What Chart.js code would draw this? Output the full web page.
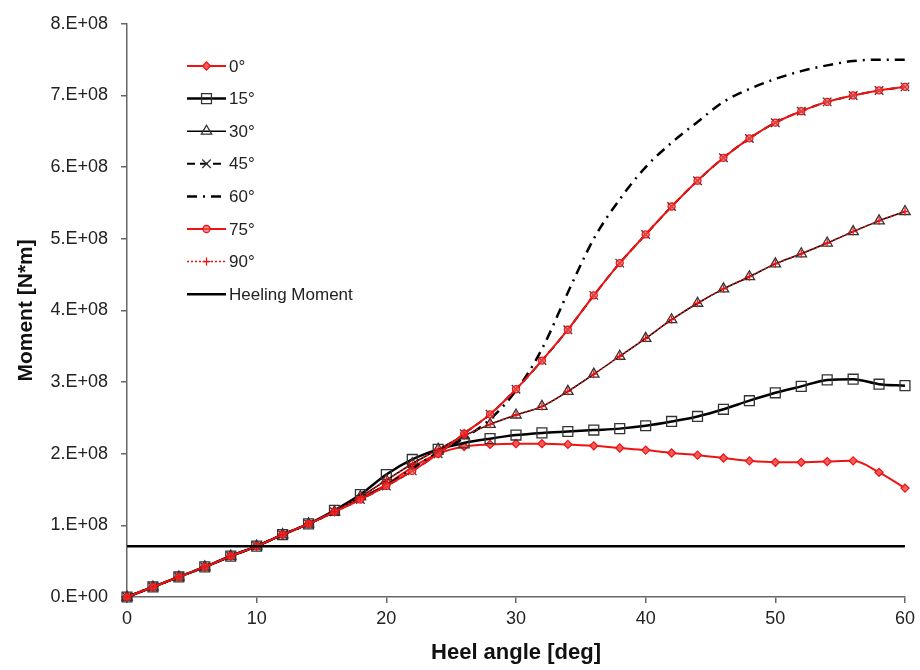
<!DOCTYPE html>
<html>
<head>
<meta charset="utf-8">
<script src="https://cdn.jsdelivr.net/npm/chart.js@4.4.1/dist/chart.umd.min.js"></script>
<style>
  html, body { margin: 0; padding: 0; background: #fff; }
  #wrap { width: 920px; height: 670px; }
</style>
</head>
<body>
<div id="wrap"><canvas id="chart" width="920" height="670"></canvas></div>
<script>
// heel angles [deg]
const heelAngle = [0, 2, 4, 6, 8, 10, 12, 14, 16, 18, 20, 22, 24, 26, 28, 30,
                   32, 34, 36, 38, 40, 42, 44, 46, 48, 50, 52, 54, 56, 58, 60];

// righting moments, in units of 1E+08 N*m
const moment0 = [0, 0.14, 0.28, 0.42, 0.57, 0.71, 0.87, 1.02, 1.19, 1.38, 1.57, 1.81, 2.00, 2.10, 2.13, 2.14,
                 2.14, 2.13, 2.11, 2.08, 2.05, 2.01, 1.98, 1.94, 1.90, 1.88, 1.88, 1.89, 1.90, 1.74, 1.52];
const moment15 = [0, 0.14, 0.28, 0.42, 0.57, 0.71, 0.87, 1.02, 1.21, 1.43, 1.71, 1.92, 2.06, 2.15, 2.21, 2.26,
                  2.29, 2.31, 2.33, 2.35, 2.39, 2.45, 2.52, 2.62, 2.74, 2.85, 2.94, 3.03, 3.04, 2.97, 2.95];
const moment30 = [0, 0.14, 0.28, 0.42, 0.57, 0.71, 0.87, 1.02, 1.19, 1.40, 1.63, 1.86, 2.06, 2.25, 2.41, 2.54,
                  2.66, 2.87, 3.11, 3.36, 3.61, 3.87, 4.10, 4.30, 4.47, 4.65, 4.79, 4.94, 5.10, 5.25, 5.38];
const moment45 = [0, 0.14, 0.28, 0.42, 0.57, 0.71, 0.87, 1.02, 1.19, 1.36, 1.55, 1.76, 2.00, 2.28, 2.55, 2.90,
                  3.30, 3.73, 4.21, 4.66, 5.06, 5.45, 5.81, 6.13, 6.40, 6.62, 6.78, 6.91, 7.00, 7.07, 7.12];
const moment60 = [0, 0.14, 0.28, 0.42, 0.57, 0.71, 0.87, 1.02, 1.19, 1.37, 1.56, 1.79, 2.02, 2.22, 2.48, 2.88,
                  3.46, 4.25, 5.00, 5.55, 6.00, 6.34, 6.63, 6.91, 7.09, 7.23, 7.34, 7.42, 7.48, 7.50, 7.50];
const moment75 = [0, 0.14, 0.28, 0.42, 0.57, 0.71, 0.87, 1.02, 1.19, 1.36, 1.55, 1.76, 2.00, 2.28, 2.55, 2.90,
                  3.30, 3.73, 4.21, 4.66, 5.06, 5.45, 5.81, 6.13, 6.40, 6.62, 6.78, 6.91, 7.00, 7.07, 7.12];
const moment90 = [0, 0.14, 0.28, 0.42, 0.57, 0.71, 0.87, 1.02, 1.19, 1.40, 1.63, 1.86, 2.06, 2.25, 2.41, 2.54,
                  2.66, 2.87, 3.11, 3.36, 3.61, 3.87, 4.10, 4.30, 4.47, 4.65, 4.79, 4.94, 5.10, 5.25, 5.38];

const heelingX = [0, 60];
const heelingMoment = [0.71, 0.71];

const toPoints = (xs, ys) => xs.map((x, i) => ({ x: x, y: ys[i] * 1e8 }));

const RED = 'rgb(238,20,20)';
const BLACK = '#000';

Chart.defaults.font.family = '"Liberation Sans", Arial, sans-serif';

// legend drawn inside the plot, line sample + marker like the original
const insideLegend = {
  id: 'insideLegend',
  afterDraw(chart) {
    const ctx = chart.ctx;
    const x0 = 187, x1 = 226, top = 66, step = 32.6;
    chart.data.datasets.forEach((ds, i) => {
      const y = top + i * step;
      ctx.save();
      ctx.strokeStyle = ds.borderColor;
      ctx.lineWidth = ds.borderWidth;
      ctx.setLineDash(ds.borderDash || []);
      ctx.beginPath();
      ctx.moveTo(x0, y);
      ctx.lineTo(x1, y);
      ctx.stroke();
      ctx.setLineDash([]);
      if (ds.pointRadius > 0 && Chart.helpers && Chart.helpers.drawPoint) {
        ctx.fillStyle = ds.pointBackgroundColor;
        ctx.strokeStyle = ds.pointBorderColor;
        ctx.lineWidth = ds.pointBorderWidth;
        Chart.helpers.drawPoint(ctx, {
          pointStyle: ds.pointStyle,
          radius: ds.pointRadius,
          rotation: 0,
          borderWidth: ds.pointBorderWidth
        }, (x0 + x1) / 2, y);
      }
      ctx.fillStyle = '#222';
      ctx.font = '17px "Liberation Sans", Arial, sans-serif';
      ctx.textBaseline = 'middle';
      ctx.fillText(ds.label, 229, y + 1);
      ctx.restore();
    });
  }
};

const series = (label, ys, style) => Object.assign({
  label: label,
  data: toPoints(heelAngle, ys),
  fill: false,
  clip: false,
  cubicInterpolationMode: 'monotone',
  pointBorderWidth: 1.3
}, style);

const datasets = [
  series('0°', moment0, {
    borderColor: RED, borderWidth: 2,
    pointStyle: 'rectRot', pointRadius: 4,
    pointBackgroundColor: 'rgba(245,90,90,0.9)', pointBorderColor: RED, order: 8
  }),
  series('15°', moment15, {
    borderColor: BLACK, borderWidth: 2.5,
    pointStyle: 'rect', pointRadius: 7,
    pointBackgroundColor: 'rgba(255,255,255,0)', pointBorderColor: '#333', order: 7
  }),
  series('30°', moment30, {
    borderColor: BLACK, borderWidth: 1.5,
    pointStyle: 'triangle', pointRadius: 6,
    pointBackgroundColor: 'rgba(255,255,255,0)', pointBorderColor: '#333', order: 6
  }),
  series('45°', moment45, {
    borderColor: BLACK, borderWidth: 2, borderDash: [8, 5],
    pointStyle: 'crossRot', pointRadius: 6,
    pointBackgroundColor: 'rgba(0,0,0,0)', pointBorderColor: '#333', order: 5
  }),
  series('60°', moment60, {
    borderColor: BLACK, borderWidth: 2.5, borderDash: [10, 6, 2, 6],
    pointStyle: 'circle', pointRadius: 0,
    pointBackgroundColor: BLACK, pointBorderColor: BLACK, order: 4
  }),
  series('75°', moment75, {
    borderColor: RED, borderWidth: 2,
    pointStyle: 'circle', pointRadius: 3.5,
    pointBackgroundColor: 'rgba(245,90,90,0.6)', pointBorderColor: RED, order: 3
  }),
  series('90°', moment90, {
    borderColor: RED, borderWidth: 1.5, borderDash: [2, 2],
    pointStyle: 'cross', pointRadius: 4,
    pointBackgroundColor: RED, pointBorderColor: RED, order: 2
  }),
  {
    label: 'Heeling Moment',
    data: toPoints(heelingX, heelingMoment),
    borderColor: BLACK, borderWidth: 2.5,
    pointRadius: 0, fill: false, clip: false, order: 1
  }
];

const axisGrey = '#666';

new Chart(document.getElementById('chart').getContext('2d'), {
  type: 'line',
  data: { datasets: datasets },
  options: {
    responsive: false,
    animation: false,
    devicePixelRatio: 1,
    layout: { padding: { top: 17, right: 15, bottom: 0, left: 0 } },
    plugins: {
      legend: { display: false },
      tooltip: { enabled: false }
    },
    scales: {
      x: {
        type: 'linear',
        min: 0,
        max: 60,
        ticks: { stepSize: 10, color: '#222', font: { size: 18 }, padding: 5 },
        grid: { drawOnChartArea: false, drawTicks: true, tickLength: 6, color: axisGrey, lineWidth: 1.5 },
        border: { color: axisGrey, width: 1.5 },
        title: {
          display: true,
          text: 'Heel angle [deg]',
          color: '#111',
          font: { size: 22, weight: 'bold' },
          padding: { top: 0, bottom: 4 }
        },
        afterFit: (scale) => { scale.height = 73; }
      },
      y: {
        type: 'linear',
        min: 0,
        max: 8e8,
        ticks: {
          stepSize: 1e8,
          color: '#222',
          font: { size: 18 },
          padding: 13,
          callback: (value) => value === 0 ? '0.E+00' : Math.round(value / 1e8) + '.E+08'
        },
        grid: { drawOnChartArea: false, drawTicks: true, tickLength: 6, color: axisGrey, lineWidth: 1.5 },
        border: { color: axisGrey, width: 1.5 },
        title: {
          display: true,
          text: 'Moment [N*m]',
          color: '#111',
          font: { size: 21, weight: 'bold' },
          padding: { top: 14, bottom: 0 }
        },
        afterFit: (scale) => { scale.width = 127; }
      }
    }
  },
  plugins: [insideLegend]
});
</script>
</body>
</html>
